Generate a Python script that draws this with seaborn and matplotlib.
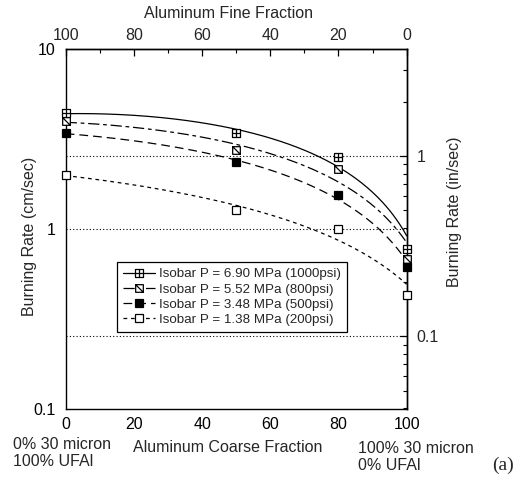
import numpy as np
import pandas as pd
import matplotlib
matplotlib.use("Agg")
import matplotlib.pyplot as plt
from matplotlib.path import Path
from matplotlib.lines import Line2D
from matplotlib.ticker import LogLocator, NullFormatter, FixedLocator, FixedFormatter
import seaborn as sns

sns.set_theme(style="white")
plt.rcParams["font.family"] = ["Liberation Sans", "DejaVu Sans"]

# Aluminum coarse fraction (%) of each formulation
coarse = [0, 50, 80, 100]

# Burning rate (cm/sec) at each isobar
rate_690 = [4.41, 3.40, 2.50, 0.78]
rate_552 = [3.96, 2.75, 2.15, 0.687]
rate_348 = [3.40, 2.36, 1.55, 0.62]
rate_138 = [2.00, 1.27, 1.00, 0.43]

labels = [
    "Isobar P = 6.90 MPa (1000psi)",
    "Isobar P = 5.52 MPa (800psi)",
    "Isobar P = 3.48 MPa (500psi)",
    "Isobar P = 1.38 MPa (200psi)",
]

CM_PER_IN = 2.54

# Custom square markers: crossed square and square with a diagonal
sq = [(-1, -1), (1, -1), (1, 1), (-1, 1), (-1, -1)]
sq_codes = [Path.MOVETO, Path.LINETO, Path.LINETO, Path.LINETO, Path.CLOSEPOLY]
m_plus = Path(sq + [(0, -1), (0, 1), (-1, 0), (1, 0)],
              sq_codes + [Path.MOVETO, Path.LINETO, Path.MOVETO, Path.LINETO])
m_diag = Path(sq + [(-1, 1), (1, -1)], sq_codes + [Path.MOVETO, Path.LINETO])

series = [
    (rate_690, m_plus, "white", "-"),
    (rate_552, m_diag, "white", (0, (9, 3, 3, 3))),
    (rate_348, "s", "black", (0, (7, 4))),
    (rate_138, "s", "white", (0, (3, 3))),
]

MS = 5.5
fig = plt.figure(figsize=(5.25, 4.82), dpi=100)
ax = fig.add_axes([0.1251, 0.1508, 0.6495, 0.7475])

xs = np.linspace(0, 100, 200)
handles = []
for (vals, mk, fc, ls), lab in zip(series, labels):
    coef = np.polyfit(coarse, vals, 2)
    fit = pd.DataFrame({"x": xs, "y": np.polyval(coef, xs)})
    sns.lineplot(data=fit, x="x", y="y", ax=ax, color="black", lw=0.9,
                 linestyle=ls, legend=False)
    pts = pd.DataFrame({"x": coarse, "y": vals})
    ax.plot(pts["x"], pts["y"], linestyle="none", marker=mk, ms=MS,
            mfc=fc, mec="black", mew=0.9, clip_on=False, zorder=5)
    handles.append(Line2D([], [], color="black", lw=0.9, linestyle=ls,
                          marker=mk, ms=MS, mfc=fc, mec="black", mew=0.9))

ax.set_yscale("log")
ax.set_xlim(0, 100)
ax.set_ylim(0.1, 10)

# reference lines at 1 cm/s and at 1 and 0.1 in/s
for yv in [1.0, 1.0 * CM_PER_IN, 0.1 * CM_PER_IN]:
    ax.axhline(yv, color="black", lw=0.8, linestyle=(0, (1, 2)), zorder=1)

for s in ax.spines.values():
    s.set_color("black")
    s.set_linewidth(1.0)

fs = 11.5
ax.xaxis.set_major_locator(FixedLocator([0, 20, 40, 60, 80, 100]))
ax.xaxis.set_minor_locator(FixedLocator([10, 30, 50, 70, 90]))
ax.yaxis.set_major_locator(FixedLocator([0.1, 1, 10]))
ax.yaxis.set_major_formatter(FixedFormatter(["0.1", "1", "10"]))
ax.yaxis.set_minor_locator(LogLocator(base=10, subs=np.arange(2, 10)))
ax.yaxis.set_minor_formatter(NullFormatter())
ax.tick_params(axis="both", which="both", direction="in", color="black",
               labelsize=fs, labelcolor="black")
ax.tick_params(axis="x", which="both", pad=5.5)
ax.tick_params(axis="y", which="both", pad=7)
ax.tick_params(axis="both", which="major", length=5, width=0.9)
ax.tick_params(axis="both", which="minor", length=3, width=0.8)
ax.tick_params(axis="x", which="both", top=False)
ax.tick_params(axis="y", which="both", right=False)
ax.set_xlabel("")
ax.set_ylabel("")

# top axis: fine fraction
top = ax.secondary_xaxis("top", functions=(lambda x: 100 - x, lambda x: 100 - x))
top.xaxis.set_major_locator(FixedLocator([0, 20, 40, 60, 80, 100]))
top.xaxis.set_minor_locator(FixedLocator([10, 30, 50, 70, 90]))
top.tick_params(axis="x", which="both", direction="in", labelsize=fs, pad=4, color="black")
top.tick_params(axis="x", which="major", length=5, width=0.9)
top.tick_params(axis="x", which="minor", length=3, width=0.8)
top.spines["top"].set_linewidth(1.0)
top.spines["top"].set_color("black")

# right axis: burning rate in in/sec
right = ax.secondary_yaxis("right", functions=(lambda y: y / CM_PER_IN,
                                                lambda y: y * CM_PER_IN))
right.set_yscale("log")
right.yaxis.set_major_locator(FixedLocator([0.1, 1]))
right.yaxis.set_major_formatter(FixedFormatter(["0.1", "1"]))
right.yaxis.set_minor_locator(LogLocator(base=10, subs=np.arange(2, 10)))
right.yaxis.set_minor_formatter(NullFormatter())
right.tick_params(axis="y", which="both", direction="in", labelsize=fs, pad=7, color="black")
right.tick_params(axis="y", which="major", length=5, width=0.9)
right.tick_params(axis="y", which="minor", length=3, width=0.8)
right.spines["right"].set_linewidth(1.0)
right.spines["right"].set_color("black")

fig.text(228 / 525, 1 - 14 / 482, "Aluminum Fine Fraction", ha="center", va="center", fontsize=fs)
fig.text(228 / 525, 1 - 447 / 482, "Aluminum Coarse Fraction", ha="center", va="center", fontsize=fs)
fig.text(30 / 525, 1 - 236 / 482, "Burning Rate (cm/sec)", ha="center", va="center",
         rotation=90, fontsize=fs)
fig.text(455 / 525, 1 - 212 / 482, "Burning Rate (in/sec)", ha="center", va="center",
         rotation=90, fontsize=fs)
fig.text(13 / 525, 1 - 453 / 482, "0% 30 micron\n100% UFAl", ha="left", va="center",
         fontsize=fs, linespacing=1.1)
fig.text(358 / 525, 1 - 457 / 482, "100% 30 micron\n0% UFAl", ha="left", va="center",
         fontsize=fs, linespacing=1.1)
fig.text(503 / 525, 1 - 465 / 482, "(a)", ha="center", va="center", fontsize=14,
         family=["Liberation Serif", "DejaVu Serif"])

leg = ax.legend(handles, labels, loc="upper left", bbox_to_anchor=(0.150, 0.409),
                frameon=True, fancybox=False, fontsize=9.6, handlelength=2.4,
                handletextpad=0.3, borderpad=0.45, labelspacing=0.22,
                borderaxespad=0, framealpha=1)
leg.get_frame().set_edgecolor("black")
leg.get_frame().set_linewidth(0.9)

fig.savefig("out.png", dpi=100)
